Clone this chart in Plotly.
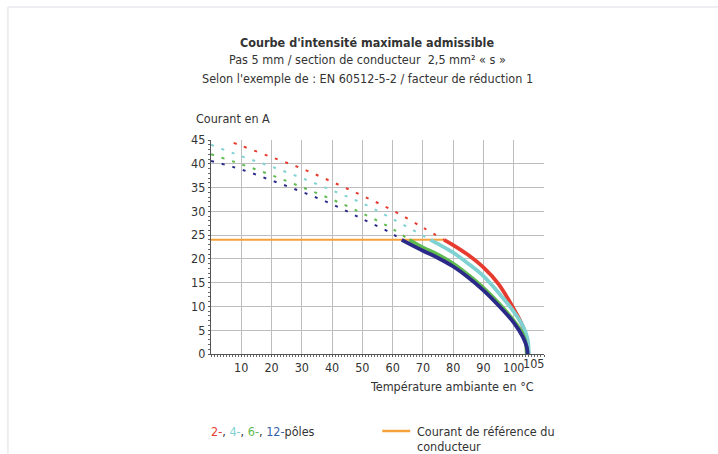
import plotly.graph_objects as go

# ---- data ----
red_dash_x = [7.5, 10, 20, 30, 40, 50, 60, 70, 77]
red_dash_y = [44.4, 43.8, 41.4, 39.0, 36.2, 33.3, 30.2, 26.6, 24.0]
red_x = [77, 80, 85, 90, 95, 100, 103, 104.5, 104.8]
red_y = [24, 22.9, 20.8, 18.2, 14.7, 9.5, 5.8, 2.5, 0]

cyan_dash_x = [0, 10, 20, 30, 40, 50, 60, 72.5]
cyan_dash_y = [44.0, 41.6, 39.4, 37.0, 34.4, 31.7, 28.4, 24.0]
cyan_x = [72.5, 76, 80, 85, 90, 95, 100, 103, 104.5, 105]
cyan_y = [24, 22.8, 21.3, 19.0, 16.4, 12.9, 8.9, 5.9, 3.4, 0]

green_dash_x = [0, 10, 20, 30, 40, 50, 60, 65.5]
green_dash_y = [42.0, 39.9, 37.6, 35.1, 32.5, 29.6, 26.3, 24.0]
green_x = [65.5, 70, 75, 80, 85, 90, 95, 100, 103, 104, 104.3]
green_y = [24, 22.4, 20.9, 19.0, 16.6, 13.9, 10.7, 7.0, 4.2, 2.2, 0]

navy_dash_x = [0, 10, 20, 30, 40, 50, 59, 63]
navy_dash_y = [40.6, 38.8, 36.5, 34.1, 31.5, 28.4, 25.6, 24.0]
navy_x = [63, 70, 75, 80, 85, 90, 95, 100, 103, 104.3, 104.6]
navy_y = [24, 21.7, 20.2, 18.4, 16.1, 13.4, 10.2, 6.6, 3.6, 1.5, 0]

ref_x = [0, 77]
ref_y = [24, 24]

x_ticks = [10, 20, 30, 40, 50, 60, 70, 80, 90, 100, 110]
x_ticklabels = ["10", "20", "30", "40", "50", "60", "70", "80", "90", "100", ""]
y_ticks = [0, 5, 10, 15, 20, 25, 30, 35, 40, 45]

RED = "#e63b2e"
CYAN = "#80d2d2"
GREEN = "#5fba50"
NAVY = "#2b2a88"
ORANGE = "#f5a23a"
BLUE_TXT = "#3463a8"
TXT = "#333333"
FONT = "DejaVu Sans Condensed, sans-serif"
FS = 12.5

fig = go.Figure()

fig.add_trace(go.Scatter(x=ref_x, y=ref_y, mode="lines",
                         line=dict(color=ORANGE, width=2), showlegend=False))

dash_sets = [(red_dash_x, red_dash_y, RED), (cyan_dash_x, cyan_dash_y, CYAN),
             (green_dash_x, green_dash_y, GREEN), (navy_dash_x, navy_dash_y, NAVY)]
for dx, dy, c in dash_sets:
    fig.add_trace(go.Scatter(x=dx, y=dy, mode="lines", showlegend=False,
                             line=dict(color=c, width=2, dash="3px,8px", shape="spline")))

solid_sets = [(red_x, red_y, RED), (cyan_x, cyan_y, CYAN),
              (green_x, green_y, GREEN), (navy_x, navy_y, NAVY)]
for sx, sy, c in solid_sets:
    fig.add_trace(go.Scatter(x=sx, y=sy, mode="lines", showlegend=False,
                             line=dict(color=c, width=3.8, shape="spline", smoothing=1.0)))

W, H = 718, 454
L, R, T, B = 210.5, 544, 140, 354
def px(x):
    return (x - L) / (R - L)
def py(y):
    return (B - y) / (B - T)

def txt(text, x, y, xa="left", size=FS, xref="paper"):
    return dict(text=text, xref=xref, yref="paper", x=x, y=py(y),
                xanchor=xa, yanchor="middle", showarrow=False,
                font=dict(size=size, color=TXT, family=FONT))

ann = [
    txt("<b>Courbe d'intensité maximale admissible</b>", px(367), 42, "center"),
    txt("Pas 5 mm / section de conducteur  2,5 mm² « s »", px(367), 60, "center"),
    txt("Selon l'exemple de : EN 60512-5-2 / facteur de réduction 1", px(367), 78, "center"),
    txt("Courant en A", px(193), 118),
    txt("Température ambiante en °C", px(536), 386, "right"),
    txt("Courant de référence du", px(415), 431),
    txt("conducteur", px(415), 446),
]
a105 = txt("105", 105, 363, "center", xref="x")
a105["xshift"] = 5
ann.append(a105)
legend_txt = (f"<span style='color:{RED}'>2-</span>, "
              f"<span style='color:{CYAN}'>4-</span>, "
              f"<span style='color:{GREEN}'>6-</span>, "
              f"<span style='color:{BLUE_TXT}'>12-</span>pôles")
ann.append(txt(legend_txt, px(208), 431))

shapes = [
    dict(type="line", xref="paper", yref="paper", x0=px(382), x1=px(410),
         y0=py(431), y1=py(431), line=dict(color=ORANGE, width=2.5)),
    dict(type="line", xref="paper", yref="paper", x0=px(7), x1=px(730),
         y0=py(7), y1=py(7), line=dict(color="#eceef1", width=2), layer="below"),
    dict(type="line", xref="paper", yref="paper", x0=px(7), x1=px(7),
         y0=py(7), y1=py(470), line=dict(color="#eceef1", width=2), layer="below"),
]

fig.update_layout(
    width=W, height=H,
    margin=dict(l=L, r=W - R, t=T, b=H - B, pad=0),
    paper_bgcolor="white", plot_bgcolor="white",
    font=dict(family=FONT, size=FS, color=TXT),
    annotations=ann, shapes=shapes, showlegend=False,
)
axis_common = dict(showgrid=True, gridcolor="#bdbdbd", gridwidth=1.3,
                   showline=True, linecolor="#555555", linewidth=1.3,
                   ticks="outside", ticklen=2, tickcolor="#555555",
                   minor=dict(dtick=1, ticks="outside", ticklen=2, tickcolor="#666666", showgrid=False),
                   zeroline=False, tickfont=dict(size=FS, color=TXT, family=FONT))
fig.update_xaxes(range=[0, 110], tickmode="array", tickvals=x_ticks, ticktext=x_ticklabels,
                 **axis_common)
fig.update_yaxes(range=[0, 45], tickmode="array", tickvals=y_ticks, **axis_common)

fig.write_html("out.html", config={"displayModeBar": False},
               post_script="document.body.style.margin='0';document.body.style.padding='0';")
